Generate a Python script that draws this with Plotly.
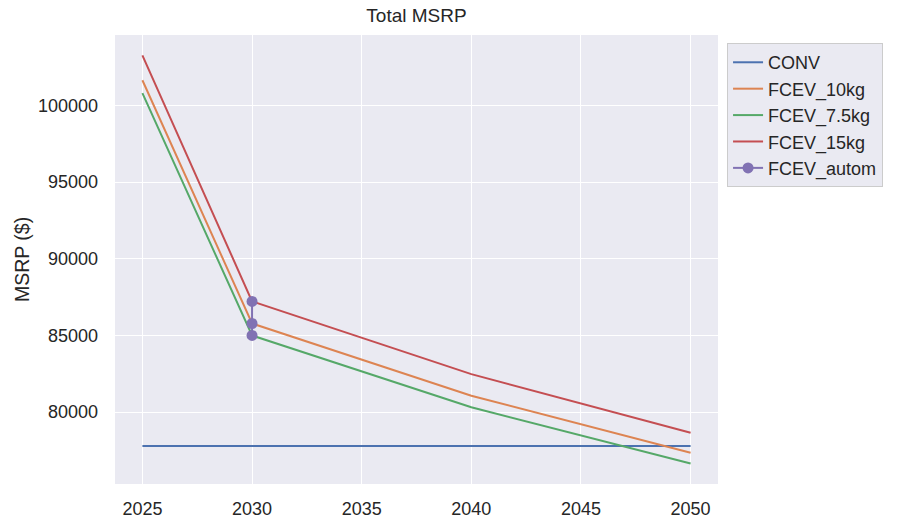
import plotly.graph_objects as go

years = [2025, 2030, 2040, 2050]
conv = [77800, 77800, 77800, 77800]
fcev_10kg = [101630, 85780, 81070, 77360]
fcev_75kg = [100790, 85000, 80320, 76650]
fcev_15kg = [103250, 87220, 82480, 78660]
autom_years = [2030, 2030, 2030]
autom_vals = [85000, 85780, 87220]

series = [
    ("CONV", years, conv, "#4C72B0", False),
    ("FCEV_10kg", years, fcev_10kg, "#DD8452", False),
    ("FCEV_7.5kg", years, fcev_75kg, "#55A868", False),
    ("FCEV_15kg", years, fcev_15kg, "#C44E52", False),
    ("FCEV_autom", autom_years, autom_vals, "#8172B3", True),
]

fig = go.Figure()
for name, xs, ys, color, mk in series:
    fig.add_trace(go.Scatter(
        x=xs, y=ys, name=name,
        mode="lines+markers" if mk else "lines",
        line=dict(color=color, width=2),
        marker=dict(size=11, color=color) if mk else None,
    ))

font = "Liberation Sans, Arial, sans-serif"
fig.update_layout(
    width=904, height=523,
    margin=dict(l=115, r=186, t=35, b=39),
    paper_bgcolor="white",
    plot_bgcolor="#EAEAF2",
    font=dict(family=font, size=18, color="#262626"),
    title=dict(text="Total MSRP", x=0.5, xref="paper", xanchor="center",
               y=1 - 15 / 523, yanchor="middle", font=dict(size=19, color="#262626")),
    showlegend=True,
    legend=dict(x=1.015, xanchor="left", y=0.982, yanchor="top",
                bgcolor="#EAEAF2", bordercolor="#CCCCCC", borderwidth=1,
                font=dict(size=18), tracegroupgap=0),
    xaxis=dict(range=[2023.75, 2051.25], tickvals=[2025, 2030, 2035, 2040, 2045, 2050],
               showgrid=True, gridcolor="white", gridwidth=1.3, zeroline=False,
               showline=False, ticks="", ticklabelstandoff=12, automargin=False),
    yaxis=dict(range=[75320, 104580], tickvals=[80000, 85000, 90000, 95000, 100000],
               tickformat="d",
               showgrid=True, gridcolor="white", gridwidth=1.3, zeroline=False,
               showline=False, ticks="", ticklabelstandoff=16, automargin=False,
               title=dict(text="MSRP ($)", standoff=3, font=dict(size=19.5))),
)

fig.write_html("out.html", config={"displayModeBar": False},
               post_script="document.body.style.margin='0';document.body.style.overflow='hidden';")
